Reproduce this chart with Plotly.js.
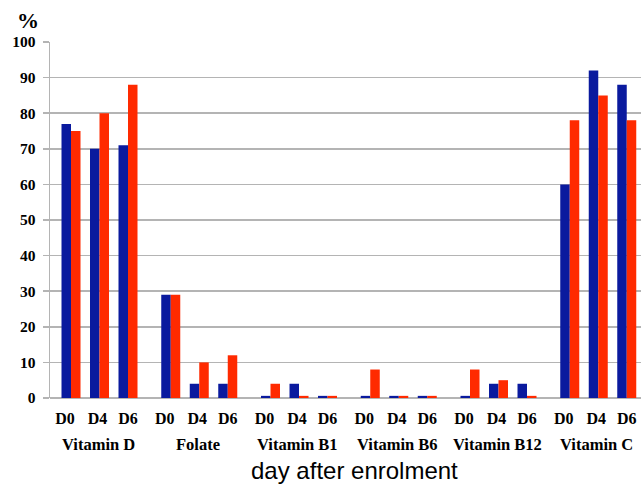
<!DOCTYPE html>
<html>
<head>
<meta charset="utf-8">
<script src="https://cdn.plot.ly/plotly-3.0.1.min.js"></script>
<style>html,body{margin:0;padding:0;background:#fff;}#chart{width:641px;height:484px;}</style>
</head>
<body>
<div id="chart"></div>
<script>
const nutrients = ["Vitamin D", "Folate", "Vitamin B1", "Vitamin B6", "Vitamin B12", "Vitamin C"];
const days = ["D0", "D4", "D6"];
const blueValues = [77, 70, 71, 29, 4, 4, 0.6, 4, 0.6, 0.6, 0.6, 0.6, 0.6, 4, 4, 60, 92, 88];
const redValues  = [75, 80, 88, 29, 10, 12, 4, 0.6, 0.6, 8, 0.6, 0.6, 8, 5, 0.6, 78, 85, 78];
const yTicks = [0, 10, 20, 30, 40, 50, 60, 70, 80, 90, 100];

// layout constants (positions of bars and labels on the numeric x scale)
const groupStep = 3.5;
const dayLabelShift = [-0.21, -0.07, 0];
const groupLabelShift = -0.05;

const xPos = [], tickPos = [], xText = [];
nutrients.forEach((n, i) => days.forEach((d, j) => {
  xPos.push(i * groupStep + j);
  tickPos.push(i * groupStep + j + dayLabelShift[j]);
  xText.push(d);
}));

const serif = "Liberation Serif, Times New Roman, serif";
const traces = [
  {type: "bar", x: xPos, y: blueValues, marker: {color: "#0a1a9e"}, showlegend: false, hoverinfo: "y"},
  {type: "bar", x: xPos, y: redValues, marker: {color: "#ff2a00"}, showlegend: false, hoverinfo: "y"}
];

const annotations = nutrients.map((n, i) => ({
  text: "<b>" + n + "</b>", x: i * groupStep + 1 + groupLabelShift, xref: "x", y: -0.132, yref: "paper",
  showarrow: false, xanchor: "center", yanchor: "middle", font: {family: serif, size: 16.5, color: "#000"}
}));
annotations.push({text: "day after enrolment", x: 0.516, xref: "paper", y: -0.204, yref: "paper",
  showarrow: false, xanchor: "center", yanchor: "middle", font: {family: "Liberation Sans, Arial, sans-serif", size: 24, color: "#000"}});
annotations.push({text: "<b>%</b>", x: -0.038, xref: "paper", y: 1.06, yref: "paper",
  showarrow: false, xanchor: "center", yanchor: "middle", font: {family: serif, size: 22, color: "#000"}});

const layout = {
  width: 641, height: 484,
  margin: {l: 50, r: 0, t: 42, b: 86, pad: 0},
  paper_bgcolor: "#fff", plot_bgcolor: "#fff",
  barmode: "group", bargap: 0.333, bargroupgap: 0,
  xaxis: {
    range: [-0.737, 20.0], tickvals: tickPos, ticktext: xText.map(t => "<b>" + t + "</b>"),
    showgrid: false, zeroline: false, showline: false, ticks: "",
    tickfont: {family: serif, size: 16, color: "#000"}, ticklabelstandoff: 9
  },
  yaxis: {
    range: [0, 100], tickvals: yTicks, ticktext: yTicks.map(v => "<b>" + v + "</b>"),
    showgrid: true, gridcolor: "#b4b4b4", gridwidth: 1.5,
    zeroline: true, zerolinecolor: "#b4b4b4", zerolinewidth: 1.5,
    showline: true, linecolor: "#b4b4b4", linewidth: 1.5,
    ticks: "outside", ticklen: 6, tickcolor: "#b4b4b4", tickwidth: 1.5,
    tickfont: {family: serif, size: 15.5, color: "#000"}, ticklabelstandoff: 4
  },
  annotations: annotations
};

Plotly.newPlot("chart", traces, layout, {displayModeBar: false, staticPlot: true});
</script>
</body>
</html>
